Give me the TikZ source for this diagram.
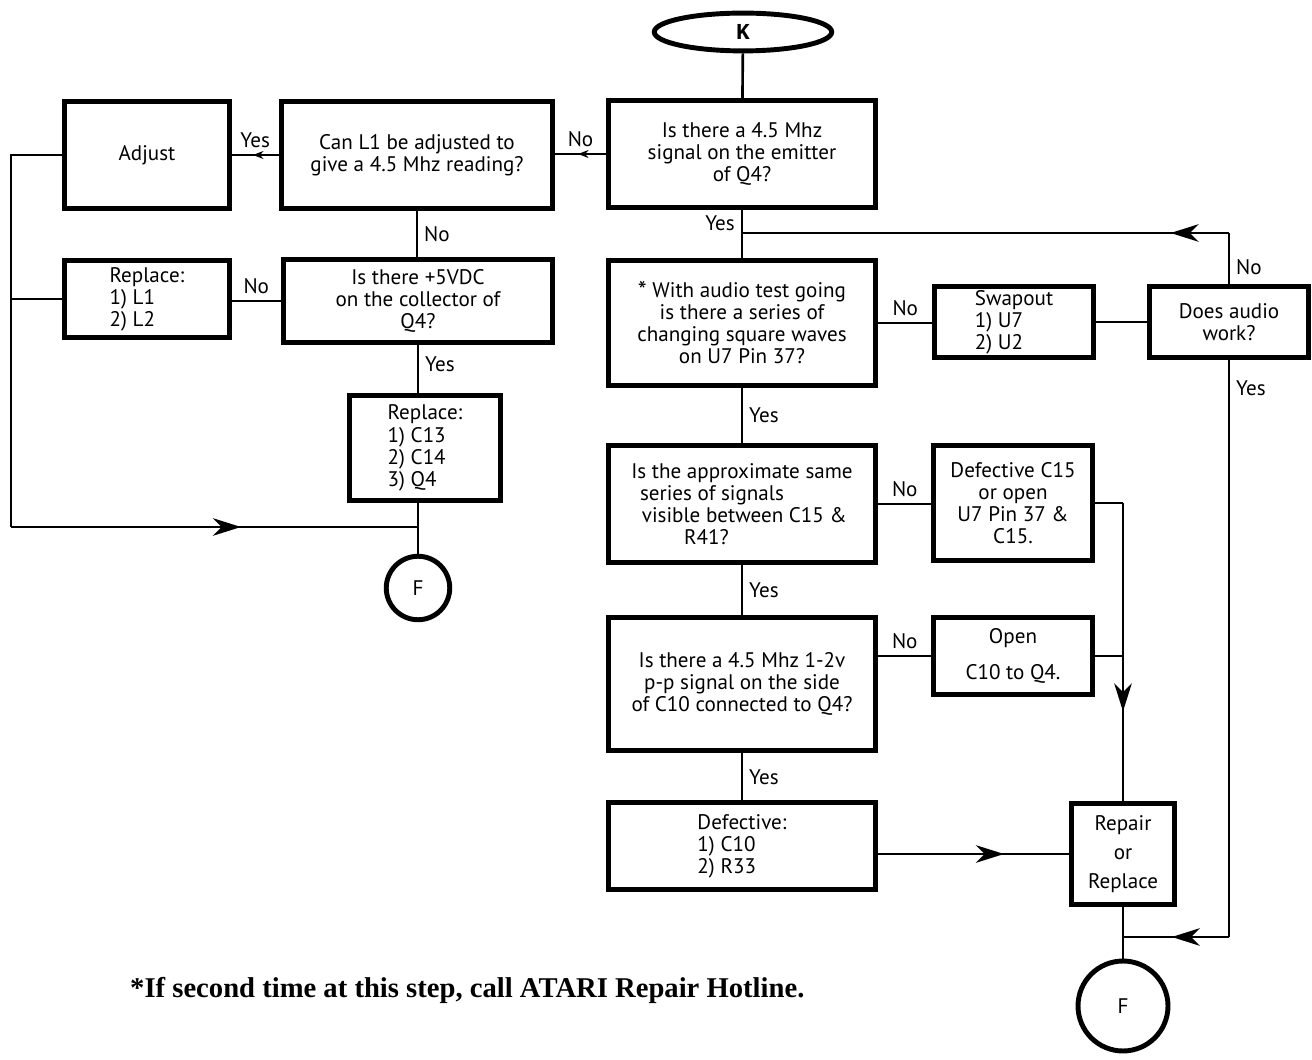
\documentclass[tikz,border=0pt]{standalone}
\usepackage{fontspec}
\setmainfont{PT Sans}
\newfontfamily\notefont{Liberation Serif}
\newfontfamily\keyfont{Liberation Mono}
\usetikzlibrary{arrows.meta,decorations.markings,shapes.geometric}

\tikzset{
  bigtip/.tip={Stealth[length=16pt,width=10pt,inset=5pt]},
  smalltip/.tip={Stealth[length=6pt,width=4.5pt]},
  box/.style 2 args={draw,line width=2.8pt,minimum width=#1,minimum height=#2,inner sep=2pt,align=center},
  conn/.style={line width=1.5pt},
  arrowat/.style={postaction={decorate},decoration={markings,mark=at position #1 with {\arrow{bigtip}}}},
  smallat/.style={postaction={decorate},decoration={markings,mark=at position #1 with {\arrow{smalltip}}}},
}

\begin{document}
\begin{tikzpicture}[x=0.02cm,y=-0.02cm,font=\fontsize{12}{12.6}\selectfont]
  \useasboundingbox (0,0) rectangle (1312,1060);
  % left column
  \node[draw,ellipse,line width=2.8pt,minimum width=3.55cm,minimum height=0.71cm,font=\keyfont\bfseries\fontsize{13}{13}\selectfont] (K) at (743,32) {K};
  \node[box={5.35cm}{2.15cm}] (emit) at (742,154) {Is there a 4.5 Mhz\\signal on the emitter\\of Q4?};
  \node[box={5.43cm}{2.15cm}] (adjL1) at (417,155) {Can L1 be adjusted to\\give a 4.5 Mhz reading?};
  \node[box={3.29cm}{2.15cm}] (adjust) at (147,155) {Adjust};
  \node[box={3.29cm}{1.55cm},align=left] (replL) at (147,299) {Replace:\\1) L1\\2) L2};
  \node[box={5.39cm}{1.65cm}] (vdc) at (418,301) {Is there +5VDC\\on the collector of\\Q4?};
  \node[box={3.03cm}{2.11cm},align=left] (replC) at (425,448) {Replace:\\1) C13\\2) C14\\3) Q4};
  \node[draw,circle,line width=2.8pt,minimum size=1.27cm] (F1) at (418,588) {F};
  % right column
  \node[box={5.35cm}{2.51cm}] (audtest) at (742,323) {\raisebox{-1pt}[9pt][0pt]{\Large *}\ With audio test going\\is there a series of\\changing square waves\\on U7 Pin 37?};
  \node[box={3.17cm}{1.41cm},align=left] (swap) at (1014,322) {Swapout\\1) U7\\2) U2};
  \node[box={3.19cm}{1.41cm}] (audio) at (1229,322) {Does audio\\work?};
  \node[box={5.35cm}{2.35cm},align=left] (same) at (742,504) {Is the approximate same\\\hspace{5pt}series of signals\\\hspace{6pt}visible between C15 \&\\\hspace{30pt}R41?};
  \node[box={3.17cm}{2.31cm}] (defC15) at (1013,503) {Defective C15\\or open\\U7 Pin 37 \&\\C15.};
  \node[box={5.35cm}{2.67cm}] (pp) at (742,684) {Is there a 4.5 Mhz 1-2v\\p-p signal on the side\\of C10 connected to Q4?};
  \node[box={3.17cm}{1.55cm}] (openC) at (1013,656) {Open\\[8pt]C10 to Q4.};
  \node[box={5.35cm}{1.73cm},align=left] (defect) at (742,846) {Defective:\\1) C10\\2) R33};
  \node[box={2.07cm}{2.03cm}] (repair) at (1123,854) {Repair\\[4pt]or\\[4pt]Replace};
  \node[draw,circle,line width=2.8pt,minimum size=1.8cm] (F2) at (1123,1006) {F};
  \node[anchor=west,font=\notefont\bfseries\fontsize{16.3}{18}\selectfont] (note) at (124,990) {*If second time at this step, call ATARI Repair Hotline.};

  \coordinate (lc) at (11,527);
  \coordinate (j1) at (742,233);
  \coordinate (ay) at (1229,937);

  % left part
  \draw[conn] (K) -- (emit);
  \draw[conn,smallat=0.55] (emit.west) -- (emit.west -| adjL1.east) node[midway,above] {No};
  \draw[conn,smallat=0.55] (adjL1.west) -- (adjL1.west -| adjust.east) node[midway,above] {Yes};
  \draw[conn] (adjL1.south) -- (adjL1.south |- vdc.north) node[midway,right] {No};
  \draw[conn] (vdc.west) -- (vdc.west -| replL.east) node[midway,above] {No};
  \draw[conn] (vdc.south) -- (vdc.south |- replC.north) node[pos=0.4,right] {Yes};
  \draw[conn] (F1.north |- replC.south) -- (F1);
  \draw[conn] (adjust.west) -| (lc);
  \draw[conn] (replL.west) -- (replL.west -| lc);
  \draw[conn,arrowat=0.565] (lc) -- (F1.north |- lc);

  % right part
  \draw[conn] (emit) -- (audtest) node[pos=0.27,left] {Yes};
  \draw[conn] (audio.north) -- (audio.north |- j1) node[pos=0.33,right] {No};
  \draw[conn,arrowat=0.12] (audio.north |- j1) -- (j1);
  \draw[conn] (audtest.east) -- (audtest.east -| swap.west) node[midway,above] {No};
  \draw[conn] (swap) -- (audio);
  \draw[conn] (audio.south) -- (ay) node[pos=0.05,right] {Yes};
  \draw[conn,arrowat=0.54] (ay) -- (ay -| repair.south);
  \draw[conn] (audtest) -- (same) node[midway,right] {Yes};
  \draw[conn] (same.east) -- (same.east -| defC15.west) node[midway,above] {No};
  \draw[conn] (defC15.east) -- (defC15.east -| repair.north);
  \draw[conn,arrowat=0.7] (defC15.east -| repair.north) -- (repair.north);
  \draw[conn] (same) -- (pp) node[midway,right] {Yes};
  \draw[conn] (openC.west -| pp.east) -- (openC.west) node[midway,above] {No};
  \draw[conn] (openC.east) -- (openC.east -| repair.north);
  \draw[conn] (pp) -- (defect) node[midway,right] {Yes};
  \draw[conn,arrowat=0.66] (defect.east |- repair) -- (repair);
  \draw[conn] (repair) -- (F2);
\end{tikzpicture}
\end{document}
